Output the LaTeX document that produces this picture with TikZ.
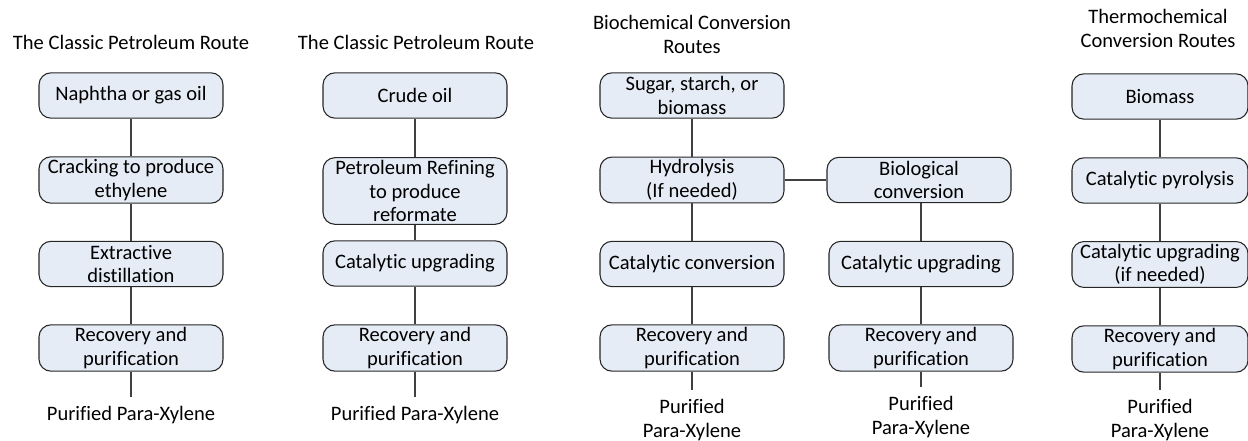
\documentclass[tikz,border=0pt]{standalone}
\usepackage{fontspec}
\setmainfont[Ligatures=NoCommon]{Carlito}
\definecolor{boxfill}{HTML}{E6ECF6}
\definecolor{linkgray}{HTML}{404040}
\tikzset{
  stepbox/.style={draw=black!85, fill=boxfill, rounded corners=9pt, line width=0.8pt,
    minimum width=138pt, minimum height=34pt, align=center, inner sep=2pt},
  link/.style={draw=linkgray, line width=0.8pt},
  title/.style={align=center, inner sep=1pt},
  product/.style={align=center, inner sep=7pt},
}
\begin{document}
\begin{tikzpicture}[x=0.75pt, y=-0.75pt, font=\fontsize{15.4}{17.6}\selectfont, line join=round]
		\useasboundingbox (0,0) rectangle (1248,441);
		% classic route, naphtha
		\node[title] (t1) at (131,42) {The Classic Petroleum Route};
		\node[stepbox] (a1) at (131,95.5) {Naphtha or gas oil};
		\node[stepbox] (a2) at (131,180) {Cracking to produce\\ethylene};
		\node[stepbox] (a3) at (131,264) {Extractive\\distillation};
		\node[stepbox] (a4) at (131,348) {Recovery and\\purification};
		\node[product] (a5) at (131,415) {Purified Para-Xylene};
		\draw[link] (a1)--(a2)--(a3)--(a4)--(a5);
		% classic route, crude oil
		\node[title] (t2) at (416,42) {The Classic Petroleum Route};
		\node[stepbox] (b1) at (415,95.5) {Crude oil};
		\node[stepbox] (b2) at (415,191) {Petroleum Refining\\to produce\\reformate};
		\node[stepbox] (b3) at (415,263.5) {Catalytic upgrading};
		\node[stepbox] (b4) at (415,348) {Recovery and\\purification};
		\node[product] (b5) at (415,415) {Purified Para-Xylene};
		\draw[link] (b1)--(b2)--(b3)--(b4)--(b5);
		% biochemical
		\node[title] (t3) at (692,34.5) {Biochemical Conversion\\Routes};
		\node[stepbox] (c1) at (692,95.5) {Sugar, starch, or\\biomass};
		\node[stepbox] (c2) at (692,180) {Hydrolysis\\(If needed)};
		\node[stepbox] (c3) at (692,264) {Catalytic conversion};
		\node[stepbox] (c4) at (692,348) {Recovery and\\purification};
		\node[product] (c5) at (692,420) {Purified\\Para-Xylene};
		\draw[link] (c1)--(c2)--(c3)--(c4)--(c5);
		\node[stepbox] (d2) at (919,180) {Biological\\conversion};
		\node[stepbox] (d3) at (921,264) {Catalytic upgrading};
		\node[stepbox] (d4) at (921,348) {Recovery and\\purification};
		\node[product] (d5) at (921,417) {Purified\\Para-Xylene};
		\draw[link] (c2)--(d2);
		\draw[link] (d2.south-|d3)--(d3)--(d4)--(d5);
		% thermochemical
		\node[title] (t4) at (1158,28.5) {Thermochemical\\Conversion Routes};
		\node[stepbox, minimum width=132pt] (e1) at (1160,96.5) {Biomass};
		\node[stepbox, minimum width=132pt] (e2) at (1160,180.5) {Catalytic pyrolysis};
		\node[stepbox, minimum width=132pt] (e3) at (1160,264.5) {Catalytic upgrading\\(if needed)};
		\node[stepbox, minimum width=132pt] (e4) at (1160,349) {Recovery and\\purification};
		\node[product] (e5) at (1160,420) {Purified\\Para-Xylene};
		\draw[link] (e1)--(e2)--(e3)--(e4)--(e5);
\end{tikzpicture}
\end{document}
